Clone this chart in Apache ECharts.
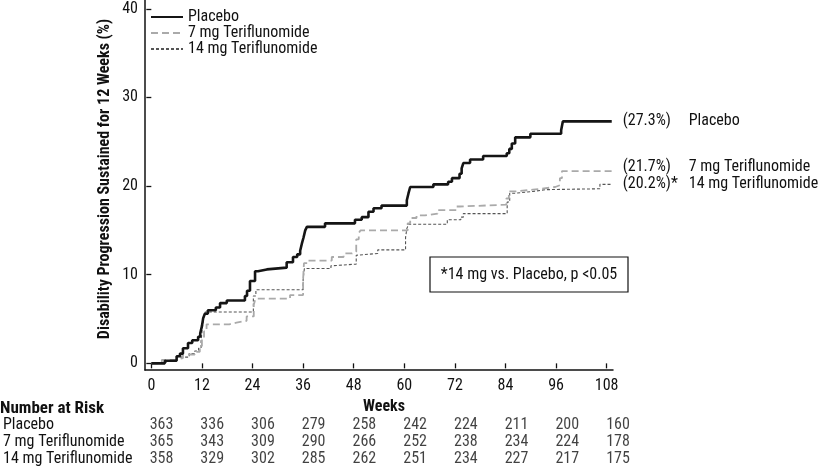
<!DOCTYPE html>
<html><head><meta charset="utf-8">
<script src="https://cdn.jsdelivr.net/npm/echarts@6/dist/echarts.min.js"></script>
<style>html,body{margin:0;padding:0;background:#fff}#c{width:821px;height:468px}</style>
</head><body><div id="c"></div>
<script>
// ---------------- data ----------------
const weekTicks = [0, 12, 24, 36, 48, 60, 72, 84, 96, 108];
const yTicks = [0, 10, 20, 30, 40];
const groupNames = ['Placebo', '7 mg Teriflunomide', '14 mg Teriflunomide'];
// [week of step, cumulative % after step]
const placebo = [[0,0],[3.2,0.3],[6.0,0.8],[6.8,1.1],[7.5,1.7],[8.7,2.3],[9.7,2.6],[11.1,3.0],[11.6,3.4],[12.0,4.2],[12.3,5.1],[12.7,5.6],[13.4,6.0],[15.3,6.3],[16.3,6.8],[17.9,7.1],[22.2,7.6],[22.7,8.2],[23.4,9.3],[24.6,10.4],[25.3,10.6],[27.4,10.8],[32.1,11.4],[33.6,12.0],[34.6,12.3],[35.3,12.7],[35.7,13.5],[36.1,14.2],[36.5,15.0],[36.9,15.4],[41.2,15.8],[48.3,16.2],[49.9,16.5],[51.5,17.1],[52.7,17.5],[54.6,17.8],[60.6,18.4],[61.0,19.2],[61.4,19.9],[66.9,20.2],[70.4,20.5],[71.3,20.9],[73.1,21.4],[73.6,22.0],[74.0,22.6],[75.6,23.0],[78.7,23.4],[84.3,23.7],[84.9,24.2],[85.5,24.8],[86.3,25.5],[89.9,25.9],[97.2,26.3],[97.6,27.3],[109.2,27.3]];
const teri7 = [[0,0],[2.5,0.4],[6.0,0.6],[7.5,1.0],[10.3,1.3],[11.5,1.7],[12.0,2.8],[12.5,3.6],[13.1,4.4],[18.5,4.6],[20.2,4.8],[22.6,5.3],[24.3,6.6],[24.7,7.3],[32.9,7.7],[36.0,9.5],[36.2,11.3],[37.0,11.6],[42.8,12.0],[45.6,12.4],[47.6,12.6],[48.6,14.0],[49.2,14.7],[49.6,15.0],[60.8,15.8],[61.4,16.4],[62.9,16.7],[64.9,16.9],[67.9,17.3],[72.4,17.7],[73.2,17.9],[84.2,18.6],[84.8,19.4],[86.5,19.6],[90.5,19.7],[92.5,19.9],[95.8,20.1],[96.9,20.9],[97.4,21.7],[109.2,21.7]];
const teri14 = [[0,0],[3.5,0.3],[6.0,0.7],[9.0,1.1],[10.3,1.4],[11.2,1.7],[11.8,2.5],[12.1,4.0],[12.4,5.1],[12.8,5.8],[24.2,7.6],[24.8,8.3],[36.0,9.5],[36.3,10.7],[42.6,11.0],[42.9,11.2],[48.6,12.2],[49.0,12.4],[53.7,12.8],[60.3,14.2],[60.6,15.2],[61.0,15.7],[70.2,16.2],[73.4,16.5],[74.0,16.9],[84.4,18.2],[85.0,19.2],[86.3,19.4],[90.5,19.6],[93.5,19.7],[106.4,20.2],[109.2,20.2]];
const endPct = ['(27.3%)', '(21.7%)', '(20.2%)*'];
const riskPlacebo = [363, 336, 306, 279, 258, 242, 224, 211, 200, 160];
const risk7 = [365, 343, 309, 290, 266, 252, 238, 234, 224, 178];
const risk14 = [358, 329, 302, 285, 262, 251, 234, 227, 217, 175];
const noteText = '*14 mg vs. Placebo, p <0.05';
const yTitle = 'Disability Progression Sustained for 12 Weeks (%)';
const xTitle = 'Weeks';
const tableTitle = 'Number at Risk';

// ---------------- layout ----------------
const FONT = "'Liberation Sans Narrow','Arial Narrow','Roboto Condensed','Liberation Sans',sans-serif";
const FS = 16;
const INK = '#111';
const A = {left:145, top:0, width:468, height:370, xmin:-1.5, xmax:109.5, ymin:-0.75, ymax:41};
const pxW = A.width / (A.xmax - A.xmin);
const pxP = A.height / (A.ymax - A.ymin);
const B = {
  left: A.left + (0 - A.xmin) * pxW,
  width: 108 * pxW,
  top: A.top + (A.ymax - 40) * pxP,
  height: 40 * pxP
};
const offX = A.top + A.height - (B.top + B.height);
const offY = B.left - A.left;

const seriesData = [placebo, teri7, teri14];
const lineStyles = [
  {color:'#151515', width:2.6, type:'solid'},
  {color:'#aaaaaa', width:1.8, type:[7,4]},
  {color:'#555555', width:1.1, type:[3,2]}
];
const labelOffsets = [[0,0],[0,-4],[0,0]];
const risks = [riskPlacebo, risk7, risk14];

const lineSeries = groupNames.map((name, i) => ({
  type:'line', name, xAxisIndex:0, yAxisIndex:0,
  data: seriesData[i], step:'end', symbol:'none', silent:true,
  lineStyle: lineStyles[i], itemStyle:{color: lineStyles[i].color},
  z: 10 - i,
  endLabel: {
    show:true, distance:11, offset: labelOffsets[i],
    formatter: () => '{a|' + endPct[i] + '}{b|' + name + '}',
    rich: {
      a:{width:66, fontSize:FS, fontFamily:FONT, color:INK},
      b:{fontSize:FS, fontFamily:FONT, color:INK}
    }
  }
}));

const tableData = [];
risks.forEach((arr, r) => arr.forEach((v, i) => tableData.push([weekTicks[i], r, v])));

const option = {
  animation:false,
  backgroundColor:'#fff',
  textStyle:{fontFamily:FONT},
  grid:[
    {left:A.left, top:A.top, width:A.width, height:A.height},
    {left:B.left, top:B.top, width:B.width, height:B.height},
    {left:155.5, top:416.5, width:462.5, height:51.75}
  ],
  xAxis:[
    {type:'value', gridIndex:0, min:A.xmin, max:A.xmax, splitLine:{show:false},
     axisLine:{show:true, onZero:false, lineStyle:{color:INK, width:1.5}},
     axisTick:{show:false}, axisLabel:{show:false}},
    {type:'value', gridIndex:1, min:0, max:108, interval:12, offset:offX,
     splitLine:{show:false}, axisLine:{show:false},
     axisTick:{show:true, length:5, lineStyle:{color:INK, width:1.3}},
     axisLabel:{margin:8, fontSize:FS, color:INK, fontFamily:FONT},
     name:xTitle, nameLocation:'middle', nameGap:26,
     nameTextStyle:{fontSize:FS, fontWeight:'bold', color:INK, fontFamily:FONT, padding:[0,0,0,10]}},
    {type:'value', gridIndex:2, min:0, max:108, show:false}
  ],
  yAxis:[
    {type:'value', gridIndex:0, min:A.ymin, max:A.ymax, splitLine:{show:false},
     axisLine:{show:true, onZero:false, lineStyle:{color:INK, width:1.5}},
     axisTick:{show:false}, axisLabel:{show:false},
     name:yTitle, nameLocation:'middle', nameGap:32,
     nameTextStyle:{fontSize:FS, fontWeight:'bold', color:INK, fontFamily:FONT, padding:[0,0,0,12]}},
    {type:'value', gridIndex:1, min:0, max:40, interval:10, offset:offY,
     splitLine:{show:false}, axisLine:{show:false},
     axisTick:{show:true, length:5, lineStyle:{color:INK, width:1.3}},
     axisLabel:{margin:7, fontSize:FS, color:INK, fontFamily:FONT}},
    {type:'category', gridIndex:2, data:groupNames, inverse:true,
     axisLine:{show:false}, axisTick:{show:false}, splitLine:{show:false},
     axisLabel:{interval:0, hideOverlap:false, align:'left', margin:158.5, fontSize:FS, color:INK, fontFamily:FONT}}
  ],
  legend:{
    orient:'vertical', left:145, top:4, itemWidth:32, itemHeight:10, itemGap:0,
    data:groupNames, selectedMode:false,
    itemStyle:{opacity:0},
    textStyle:{fontSize:FS, lineHeight:16, color:INK, fontFamily:FONT}
  },
  graphic:[
    {type:'text', left:0, top:400, style:{text:tableTitle, font:'bold 17px ' + FONT, fill:INK}},
    {type:'rect', shape:{x:430, y:257, width:198, height:35}, style:{fill:'#fff', stroke:INK, lineWidth:1.2}, z:20},
    {type:'text', x:529, y:274.5, style:{text:noteText, font:FS + 'px ' + FONT, fill:INK, textAlign:'center', textVerticalAlign:'middle'}, z:21}
  ],
  series: lineSeries.concat([{
    type:'scatter', xAxisIndex:2, yAxisIndex:2, data:tableData, silent:true,
    symbolSize:1, itemStyle:{color:'rgba(0,0,0,0)'},
    label:{show:true, position:'inside', formatter:p => p.value[2], fontSize:FS, color:INK, fontFamily:FONT}
  }])
};
const chart = echarts.init(document.getElementById('c'), null, {renderer:'canvas'});
chart.setOption(option);
</script>
</body></html>
